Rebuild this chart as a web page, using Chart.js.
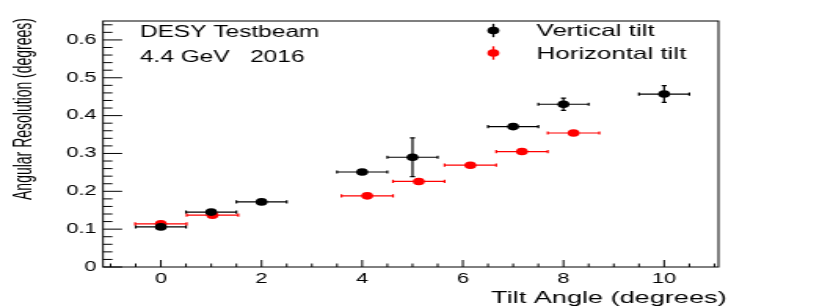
<!DOCTYPE html>
<html>
<head>
<meta charset="utf-8">
<script src="https://cdn.jsdelivr.net/npm/chart.js@4.4.1/dist/chart.umd.min.js"></script>
<style>
  html, body { margin: 0; padding: 0; background: #fff; overflow: hidden; }
  #wrap { position: absolute; left: 0; top: 0; width: 524px; height: 308px;
          transform: scaleX(1.568702); transform-origin: 0 0; }
</style>
</head>
<body>
<div id="wrap"><canvas id="c"></canvas></div>
<script>
// ---- data ----
const vertX    = [0, 1, 2, 4, 5, 7, 8, 10];
const vertY    = [0.106, 0.145, 0.172, 0.251, 0.290, 0.371, 0.430, 0.457];
const vertXErr = [0.5, 0.5, 0.5, 0.5, 0.5, 0.5, 0.5, 0.5];
const vertYErr = [0.003, 0.004, 0.003, 0.004, 0.051, 0.005, 0.016, 0.022];

const horX    = [0, 1.025, 4.1, 5.125, 6.15, 7.175, 8.2];
const horY    = [0.114, 0.137, 0.188, 0.226, 0.269, 0.305, 0.354];
const horXErr = [0.5125, 0.5125, 0.5125, 0.5125, 0.5125, 0.5125, 0.5125];
const horYErr = [0.002, 0.002, 0.002, 0.002, 0.002, 0.002, 0.002];

const seriesLabels = ["Vertical tilt", "Horizontal tilt"];
const xTicks = [0, 2, 4, 6, 8, 10];
const yTicks = [0, 0.1, 0.2, 0.3, 0.4, 0.5, 0.6];
const xMinorTicks = [-1, -0.5, 0, 0.5, 1, 1.5, 2, 2.5, 3, 3.5, 4, 4.5, 5, 5.5, 6, 6.5, 7, 7.5, 8, 8.5, 9, 9.5, 10, 10.5, 11];
const yMinorTicks = [0, 0.02, 0.04, 0.06, 0.08, 0.1, 0.12, 0.14, 0.16, 0.18, 0.2, 0.22, 0.24, 0.26, 0.28, 0.3,
                     0.32, 0.34, 0.36, 0.38, 0.4, 0.42, 0.44, 0.46, 0.48, 0.5, 0.52, 0.54, 0.56, 0.58, 0.6, 0.62, 0.64];
const annotations = ["DESY Testbeam", "4.4 GeV   2016"];
const xTitle = "Tilt Angle (degrees)";
const yTitle = "Angular Resolution (degrees)";

// ---- build ----
const toPts = (xs, ys, xe, ye) => xs.map((x, i) => ({ x: x, y: ys[i], xe: xe[i], ye: ye[i] }));
const SANS = "'Liberation Sans', Arial, Helvetica, sans-serif";
Chart.defaults.color = '#000';
Chart.defaults.font.family = SANS;

const errorBars = {
  id: 'errorBars',
  beforeDatasetsDraw(chart) {
    const { ctx, scales: { x, y } } = chart;
    const cap = 1.6;
    chart.data.datasets.forEach(ds => {
      ctx.save();
      ctx.strokeStyle = ds.backgroundColor;
      ctx.lineWidth = 1.2;
      ds.data.forEach(p => {
        const px = x.getPixelForValue(p.x), py = y.getPixelForValue(p.y);
        const x0 = x.getPixelForValue(p.x - p.xe), x1 = x.getPixelForValue(p.x + p.xe);
        const y0 = y.getPixelForValue(p.y - p.ye), y1 = y.getPixelForValue(p.y + p.ye);
        ctx.beginPath();
        ctx.moveTo(x0, py); ctx.lineTo(x1, py);
        ctx.moveTo(x0, py - cap); ctx.lineTo(x0, py + cap);
        ctx.moveTo(x1, py - cap); ctx.lineTo(x1, py + cap);
        if (Math.abs(y1 - y0) > 5) {
          ctx.moveTo(px, y0); ctx.lineTo(px, y1);
          ctx.moveTo(px - cap, y0); ctx.lineTo(px + cap, y0);
          ctx.moveTo(px - cap, y1); ctx.lineTo(px + cap, y1);
        }
        ctx.stroke();
      });
      ctx.restore();
    });
  }
};

const frameAndTicks = {
  id: 'frameAndTicks',
  afterDatasetsDraw(chart) {
    const { ctx, chartArea: a, scales: { x, y } } = chart;
    ctx.save();
    ctx.strokeStyle = '#000';
    ctx.lineWidth = 1;
    ctx.strokeRect(a.left, a.top, a.right - a.left, a.bottom - a.top);
    ctx.beginPath();
    yMinorTicks.forEach(v => {
      const py = y.getPixelForValue(v);
      const major = yTicks.some(t => Math.abs(t - v) < 1e-9);
      ctx.moveTo(a.left, py); ctx.lineTo(a.left + (major ? 12.2 : 6), py);
    });
    xMinorTicks.forEach(v => {
      const px = x.getPixelForValue(v);
      if (px < a.left || px > a.right) return;
      const major = xTicks.includes(v);
      ctx.moveTo(px, a.bottom); ctx.lineTo(px, a.bottom - (major ? 7 : 3.5));
    });
    ctx.stroke();

    ctx.fillStyle = '#000';
    ctx.textBaseline = 'alphabetic';

    // axis titles
    ctx.font = "17.3px " + SANS;
    ctx.textAlign = 'right';
    ctx.fillText(xTitle, 463.2, 303.3);

    ctx.save();
    ctx.translate(20.4, 18);
    ctx.rotate(-Math.PI / 2);
    ctx.scale(0.823, 1);
    ctx.font = "17px " + SANS;
    ctx.textAlign = 'right';
    ctx.fillText(yTitle, 0, 0);
    ctx.restore();

    // annotation text
    ctx.textAlign = 'left';
    ctx.font = "15.6px " + SANS;
    ctx.fillText(annotations[0], 89.2, 37.3);
    ctx.fillText(annotations[1], 89.2, 61.7);

    // legend
    const lx = 314.5, tx = 342.1;
    const rows = [30.5, 53.0];
    chart.data.datasets.forEach((ds, i) => {
      const cy = rows[i];
      ctx.strokeStyle = ds.backgroundColor;
      ctx.fillStyle = ds.backgroundColor;
      ctx.lineWidth = 1.3;
      ctx.beginPath();
      ctx.moveTo(lx, cy - 6.7); ctx.lineTo(lx, cy + 6.7);
      ctx.stroke();
      ctx.beginPath();
      ctx.arc(lx, cy, 3.8, 0, Math.PI * 2);
      ctx.fill();
      ctx.fillStyle = '#000';
      ctx.font = "16.5px " + SANS;
      ctx.fillText(ds.label, tx, cy + 5.6);
    });
    ctx.restore();
  }
};

new Chart(document.getElementById('c'), {
  type: 'scatter',
  data: {
    datasets: [
      { label: seriesLabels[0], data: toPts(vertX, vertY, vertXErr, vertYErr),
        backgroundColor: '#000000', borderColor: '#000000', pointRadius: 3.8, borderWidth: 0, pointHoverRadius: 3.8 },
      { label: seriesLabels[1], data: toPts(horX, horY, horXErr, horYErr),
        backgroundColor: '#ff0000', borderColor: '#ff0000', pointRadius: 3.8, borderWidth: 0, pointHoverRadius: 3.8 }
    ]
  },
  options: {
    responsive: true,
    maintainAspectRatio: false,
    animation: false,
    events: [],
    layout: { padding: { top: 21, right: 66, left: 0, bottom: 0 } },
    plugins: { legend: { display: false }, tooltip: { enabled: false } },
    scales: {
      x: {
        type: 'linear', min: -1.15, max: 11.08,
        afterBuildTicks: s => { s.ticks = xTicks.map(v => ({ value: v })); },
        afterFit: s => { s.height = 41; },
        grid: { display: false, drawTicks: false },
        border: { display: false },
        ticks: { padding: 4, font: { size: 14 }, callback: v => String(v), maxRotation: 0, autoSkip: false },
        title: { display: false, text: xTitle }
      },
      y: {
        type: 'linear', min: 0, max: 0.65,
        afterBuildTicks: s => { s.ticks = yTicks.map(v => ({ value: v })); },
        afterFit: s => { s.width = 65.66; },
        grid: { display: false, drawTicks: false },
        border: { display: false },
        ticks: { padding: 4, font: { size: 14 }, callback: v => (v === 0 ? '0' : v.toFixed(1)), autoSkip: false },
        title: { display: false, text: yTitle }
      }
    }
  },
  plugins: [errorBars, frameAndTicks]
});
</script>
</body>
</html>
